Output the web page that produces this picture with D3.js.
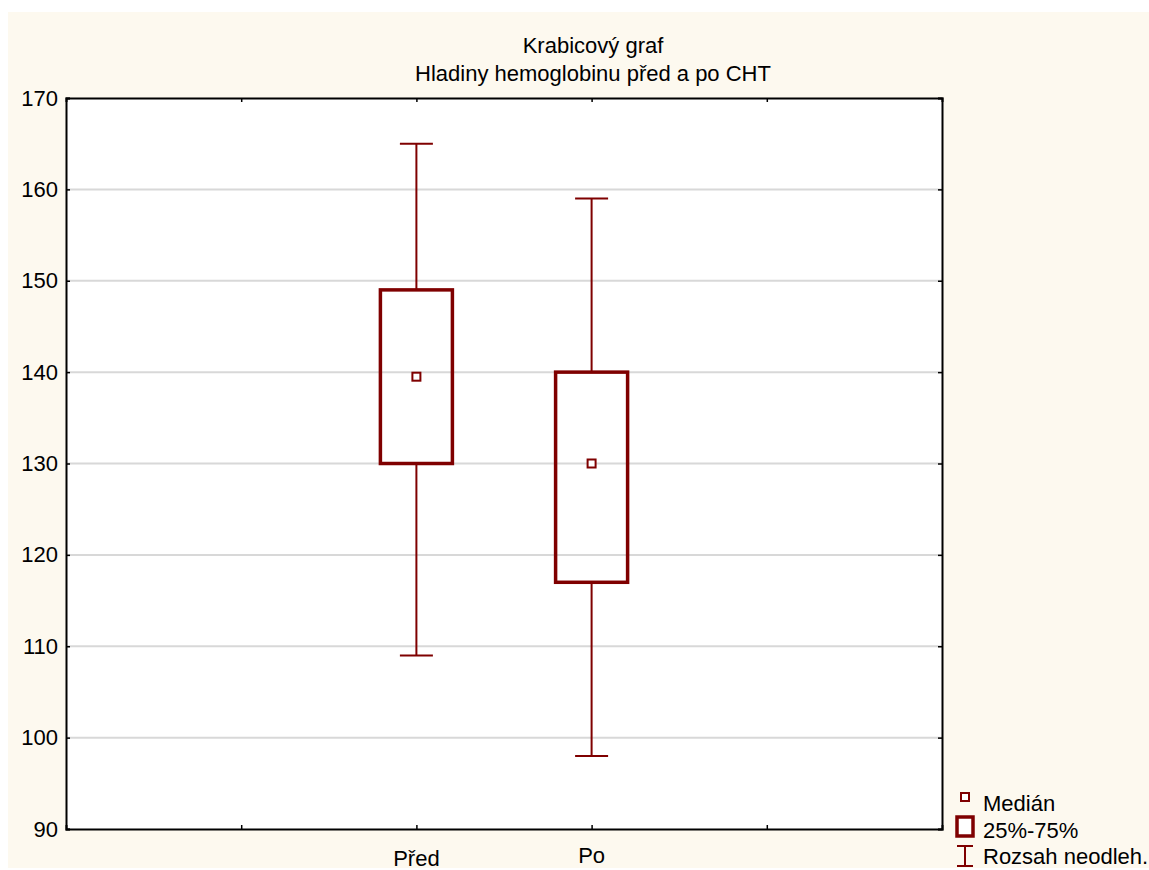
<!DOCTYPE html>
<html>
<head>
<meta charset="utf-8">
<script src="https://cdn.jsdelivr.net/npm/d3@7"></script>
<style>
  body { margin: 0; background: #fff; }
  svg text { font-family: "Liberation Sans", Arial, sans-serif; fill: #000; }
</style>
</head>
<body>
<div id="chart"></div>
<script>
const categories = ["Před", "Po"];
const categoryPos = [2, 3];
const whiskerLow = [109, 98];
const q1 = [130, 117];
const median = [139.5, 130];
const q3 = [149, 140];
const whiskerHigh = [165, 159];
const yTicks = [90, 100, 110, 120, 130, 140, 150, 160, 170];
const xTicks = [1, 2, 3, 4];
const titleLines = ["Krabicový graf", "Hladiny hemoglobinu před a po CHT"];
const legendLabels = ["Medián", "25%-75%", "Rozsah neodleh."];

const W = 1149, H = 870;
const margin = { top: 98, bottom: 41, left: 66, right: 207 };
const color = "#7f0000";
const fontSize = "22px";

const svg = d3.select("#chart").append("svg")
  .attr("width", W)
  .attr("height", H);

svg.append("rect")
  .attr("x", 8).attr("y", 12)
  .attr("width", W - 8).attr("height", 856)
  .attr("fill", "#fdf9ef");

const width = W - margin.left - margin.right;
const height = H - margin.top - margin.bottom;
const g = svg.append("g").attr("transform", `translate(${margin.left},${margin.top})`);

const xScale = d3.scaleLinear().domain([0, 5]).range([0, width]);
const yScale = d3.scaleLinear().domain([90, 170]).range([height, 0]);

g.append("rect")
  .attr("width", width).attr("height", height)
  .attr("fill", "#fff");

// gridlines
g.append("g")
  .selectAll("line")
  .data(yTicks.slice(1, -1))
  .enter().append("line")
  .attr("x1", 0).attr("x2", width)
  .attr("y1", d => yScale(d)).attr("y2", d => yScale(d))
  .attr("stroke", "#d8d8d8")
  .attr("stroke-width", 2);

// axes
const axisLeft = g.append("g")
  .call(d3.axisLeft(yScale).tickValues(yTicks).tickSize(-4).tickPadding(8));
axisLeft.selectAll("text").style("font-size", fontSize).attr("fill", "#000");

g.append("g")
  .attr("transform", `translate(${width},0)`)
  .call(d3.axisRight(yScale).tickValues(yTicks).tickSize(-4).tickFormat(""));

g.append("g")
  .call(d3.axisTop(xScale).tickValues(xTicks).tickSize(-4).tickFormat(""));

g.append("g")
  .attr("transform", `translate(0,${height})`)
  .call(d3.axisBottom(xScale).tickValues(xTicks).tickSize(-4).tickFormat(""));

g.selectAll(".domain").attr("stroke", "#000").attr("stroke-width", 2);
g.selectAll(".tick line").attr("stroke", "#000").attr("stroke-width", 1.5);

// category labels
g.append("g")
  .selectAll("text")
  .data(categories)
  .enter().append("text")
  .attr("x", (d, i) => xScale(categoryPos[i]))
  .attr("y", (d, i) => height + (i === 0 ? 37 : 34))
  .attr("text-anchor", "middle")
  .style("font-size", fontSize)
  .text(d => d);

// boxes
const boxW = 72, capW = 33, medS = 8;
const box = g.selectAll(".box")
  .data(categories)
  .enter().append("g")
  .attr("class", "box");

box.append("line")
  .attr("x1", (d, i) => xScale(categoryPos[i])).attr("x2", (d, i) => xScale(categoryPos[i]))
  .attr("y1", (d, i) => yScale(whiskerHigh[i])).attr("y2", (d, i) => yScale(q3[i]))
  .attr("stroke", color).attr("stroke-width", 2);
box.append("line")
  .attr("x1", (d, i) => xScale(categoryPos[i])).attr("x2", (d, i) => xScale(categoryPos[i]))
  .attr("y1", (d, i) => yScale(q1[i])).attr("y2", (d, i) => yScale(whiskerLow[i]))
  .attr("stroke", color).attr("stroke-width", 2);
[whiskerHigh, whiskerLow].forEach(arr => {
  box.append("line")
    .attr("x1", (d, i) => xScale(categoryPos[i]) - capW / 2)
    .attr("x2", (d, i) => xScale(categoryPos[i]) + capW / 2)
    .attr("y1", (d, i) => yScale(arr[i])).attr("y2", (d, i) => yScale(arr[i]))
    .attr("stroke", color).attr("stroke-width", 2);
});
box.append("rect")
  .attr("x", (d, i) => xScale(categoryPos[i]) - boxW / 2)
  .attr("y", (d, i) => yScale(q3[i]))
  .attr("width", boxW)
  .attr("height", (d, i) => yScale(q1[i]) - yScale(q3[i]))
  .attr("fill", "none").attr("stroke", color).attr("stroke-width", 3.5);
box.append("rect")
  .attr("x", (d, i) => xScale(categoryPos[i]) - medS / 2)
  .attr("y", (d, i) => yScale(median[i]) - medS / 2)
  .attr("width", medS).attr("height", medS)
  .attr("fill", "#fff").attr("stroke", color).attr("stroke-width", 2);

// title
svg.selectAll(".title")
  .data(titleLines)
  .enter().append("text")
  .attr("class", "title")
  .attr("x", 593)
  .attr("y", (d, i) => 53 + i * 28)
  .attr("text-anchor", "middle")
  .style("font-size", fontSize)
  .text(d => d);

// legend
const lg = svg.append("g").attr("transform", "translate(965,0)");
lg.append("rect").attr("x", -4).attr("y", 793).attr("width", 8).attr("height", 8)
  .attr("fill", "#fff").attr("stroke", color).attr("stroke-width", 2);
lg.append("rect").attr("x", -8).attr("y", 817).attr("width", 16).attr("height", 19)
  .attr("fill", "#fff").attr("stroke", color).attr("stroke-width", 3.5);
lg.append("path").attr("d", "M-8,846H8M0,846V866M-8,866H8")
  .attr("fill", "none").attr("stroke", color).attr("stroke-width", 2);
lg.selectAll("text")
  .data(legendLabels)
  .enter().append("text")
  .attr("x", 18)
  .attr("y", (d, i) => 811 + i * 26.5)
  .style("font-size", fontSize)
  .text(d => d);
</script>
</body>
</html>
